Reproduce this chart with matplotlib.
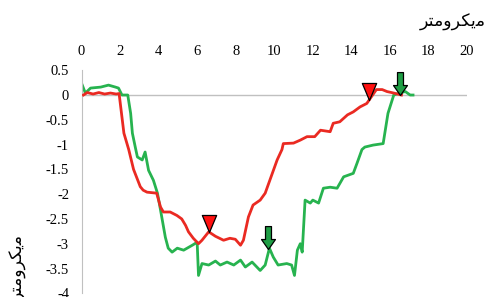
import numpy as np
import matplotlib
matplotlib.use('Agg')
import matplotlib.pyplot as plt
from matplotlib.path import Path

plt.rcParams['font.family'] = ['Liberation Serif', 'DejaVu Sans']
plt.rcParams['axes.unicode_minus'] = False

# red profile
red_x = [0.1, 0.3, 0.6, 0.9, 1.2, 1.5, 1.8, 1.95, 2.2, 2.45, 2.7, 3.05, 3.2, 3.4, 3.9, 4.1, 4.25,
         4.6, 4.95, 5.2, 5.4, 5.55, 5.8, 6.07, 6.25, 6.6, 6.95, 7.37, 7.7, 7.98, 8.25, 8.4, 8.66,
         8.9, 9.27, 9.53, 9.9, 10.15, 10.4, 10.47, 11.0, 11.35, 11.7, 12.1, 12.4, 12.9, 13.06,
         13.4, 13.8, 14.1, 14.45, 14.8, 15.05, 15.3, 15.6, 15.85, 16.2, 16.6]
red_y = [0.0, 0.05, 0.02, 0.05, 0.02, 0.04, 0.02, 0.03, -0.77, -1.1, -1.5, -1.85, -1.92, -1.96,
         -1.98, -2.26, -2.36, -2.36, -2.43, -2.5, -2.63, -2.76, -2.89, -3.0, -2.93, -2.76, -2.85,
         -2.93, -2.89, -2.91, -3.03, -2.93, -2.46, -2.22, -2.12, -1.98, -1.58, -1.31, -1.1, -0.98,
         -0.97, -0.91, -0.84, -0.84, -0.71, -0.74, -0.57, -0.54, -0.4, -0.34, -0.24, -0.17, -0.03,
         0.11, 0.11, 0.07, 0.04, 0.0]

# green profile
green_x = [0.0, 0.2, 0.47, 1.0, 1.4, 1.76, 1.92, 2.1, 2.4, 2.55, 2.64, 2.8, 2.9, 3.15, 3.3, 3.48,
           3.73, 3.94, 4.1, 4.35, 4.5, 4.7, 4.97, 5.3, 5.75, 6.0, 6.07, 6.25, 6.6, 6.95, 7.2, 7.55,
           7.9, 8.25, 8.5, 8.85, 9.27, 9.53, 9.75, 9.95, 10.2, 10.65, 10.9, 11.05, 11.2, 11.35,
           11.45, 11.6, 11.87, 12.0, 12.3, 12.55, 12.9, 13.26, 13.6, 14.1, 14.3, 14.55, 14.7,
           15.13, 15.65, 15.9, 16.2, 16.5, 16.8, 17.05, 17.2]
green_y = [0.24, 0.04, 0.14, 0.16, 0.2, 0.16, 0.14, 0.0, 0.0, -0.37, -0.77, -1.07, -1.25, -1.31,
           -1.15, -1.52, -1.72, -1.98, -2.32, -2.87, -3.09, -3.17, -3.09, -3.13, -3.03, -2.97,
           -3.64, -3.4, -3.43, -3.35, -3.43, -3.37, -3.43, -3.33, -3.47, -3.37, -3.54, -3.43,
           -3.09, -3.27, -3.43, -3.4, -3.43, -3.64, -3.13, -3.0, -3.17, -2.12, -2.18, -2.12,
           -2.18, -1.88, -1.86, -1.88, -1.65, -1.58, -1.37, -1.1, -1.05, -1.01, -0.98, -0.37,
           0.0, 0.04, 0.07, 0.0, 0.0]

# marker positions
red_mark_x = [6.6, 14.9]
red_mark_y = [-2.77, -0.1]
green_mark_x = [9.7, 16.5]
green_mark_y = [-3.1, 0.0]

x_ticks = [0, 2, 4, 6, 8, 10, 12, 14, 16, 18, 20]
y_ticks = [0.5, 0, -0.5, -1, -1.5, -2, -2.5, -3, -3.5, -4]
unit_label = '\ufeae\ufe98\ufee3\ufeed\ufeae\ufb91\ufbfe\ufee3'  # میکرومتر

# markers with tip at the origin
tri = Path([(0, 0), (-0.42, 1), (0.42, 1), (0, 0)],
           [Path.MOVETO, Path.LINETO, Path.LINETO, Path.CLOSEPOLY])
arrow = Path([(0, 0), (-0.7, 1), (-0.3, 1), (-0.3, 2.3), (0.3, 2.3), (0.3, 1), (0.7, 1), (0, 0)],
             [Path.MOVETO] + [Path.LINETO] * 6 + [Path.CLOSEPOLY])

fig = plt.figure(figsize=(4.87, 2.97), dpi=100)
ax = fig.add_axes([81.5 / 487, 0.0125, (467 - 81.5) / 487, 0.751])

ax.axhline(0, color='#c0c0c0', lw=1, zorder=1)
ax.plot(red_x, red_y, color='#ea2a22', lw=2, zorder=3)
ax.plot(green_x, green_y, color='#27b34f', lw=2, zorder=2)
ax.plot(red_mark_x, red_mark_y, ls='none', marker=tri, markersize=24.5,
        markerfacecolor='#ff1010', markeredgecolor='black', markeredgewidth=0.9, zorder=5)
ax.plot(green_mark_x, green_mark_y, ls='none', marker=arrow, markersize=33,
        markerfacecolor='#1f9e45', markeredgecolor='black', markeredgewidth=0.9, zorder=5)

ax.set_xlim(0, 20)
ax.set_ylim(-4, 0.5)
ax.xaxis.tick_top()
ax.set_xticks(x_ticks)
ax.set_yticks(y_ticks)
ax.set_yticklabels([str(v) for v in y_ticks])
ax.tick_params(length=0, labelsize=10.5, pad=9)
for s in ['top', 'right', 'bottom']:
    ax.spines[s].set_visible(False)
ax.spines['left'].set_color('#c0c0c0')

fig.text(0.998, 1 - 22 / 297, unit_label, family='DejaVu Sans', fontsize=12.5,
         ha='right', va='center')
fig.text(19 / 487, 1 - 268 / 297, unit_label, family='DejaVu Sans', fontsize=12.5,
         rotation=90, ha='center', va='center')

fig.savefig('out.png', dpi=100)
